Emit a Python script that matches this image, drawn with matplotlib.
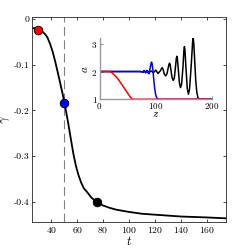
import matplotlib
matplotlib.use('Agg')
import matplotlib.pyplot as plt

plt.rcParams.update({
    'font.family': 'cmr10',
    'mathtext.fontset': 'cm',
    'axes.unicode_minus': False,
    'axes.formatter.use_mathtext': True,
})

# main curve gamma(t)
t_vals = [25, 28, 30, 33, 35, 37, 39, 41, 43, 45, 47, 49, 50, 51, 53, 55, 57,
          59, 61, 63, 65, 68, 71, 75, 80, 85, 90, 100, 110, 120, 130, 140,
          150, 160, 175]
gamma_vals = [-0.020, -0.021, -0.024, -0.028, -0.033, -0.041, -0.055, -0.072,
              -0.094, -0.118, -0.143, -0.168, -0.183, -0.197, -0.228, -0.262,
              -0.295, -0.322, -0.342, -0.358, -0.370, -0.380, -0.391, -0.400,
              -0.408, -0.413, -0.417, -0.422, -0.426, -0.428, -0.430, -0.432,
              -0.433, -0.434, -0.436]

# snapshot markers
t_marks = [30, 50, 75]
gamma_marks = [-0.024, -0.183, -0.400]
mark_colors = ['red', 'blue', 'black']
t_dash = 50

# inset profiles a(z)
z_black = [0, 72, 76, 79, 82, 85, 88, 92, 96, 100, 104, 108, 110, 111.5, 113,
           115, 117.5, 120, 122, 123.5, 124.5, 125.5, 127, 129, 131, 133,
           135, 136.5, 137.5, 138.5, 140, 142, 144, 146, 148.5, 150, 151,
           152, 153.5, 156, 158, 160, 163, 165.5, 166.5, 167.5, 169, 171,
           173, 175, 177, 200]
a_black = [2, 2, 1.98, 2.03, 1.97, 2.03, 1.97, 2.02, 1.96, 2.05, 1.93, 2.02,
           2.10, 2.14, 2.08, 1.92, 1.84, 1.92, 2.12, 2.26, 2.30, 2.26, 2.05,
           1.78, 1.68, 1.76, 2.15, 2.46, 2.55, 2.46, 2.1, 1.6, 1.42, 1.55,
           2.2, 2.75, 2.90, 2.75, 2.2, 1.4, 1.18, 1.35, 2.2, 3.05, 3.23, 3.05,
           2.5, 1.7, 1.25, 1.06, 1.0, 1.0]

z_blue = [0, 75, 78, 80, 82, 84, 86, 88, 90, 91.5, 92.5, 93.5, 95, 96.5,
          98, 100, 102, 105, 200]
a_blue = [2, 2, 1.97, 2.03, 1.95, 2.04, 1.96, 1.92, 2.12, 2.28, 2.34, 2.28,
          2.05, 1.7, 1.4, 1.15, 1.04, 1.0, 1.0]

z_red = [0, 18, 22, 26, 30, 34, 38, 42, 46, 50, 54, 57, 60, 200]
a_red = [2, 2, 1.96, 1.88, 1.8, 1.7, 1.58, 1.46, 1.34, 1.22, 1.1, 1.03, 1.0,
         1.0]

fig = plt.figure(figsize=(2.5, 2.5), dpi=100)
ax = fig.add_axes([0.128, 0.112, 0.776, 0.82])

ax.axvline(t_dash, color='0.5', lw=0.8, dashes=(8, 4))
ax.plot(t_vals, gamma_vals, color='black', lw=1.3)
for tm, gm, c in zip(t_marks, gamma_marks, mark_colors):
    ax.plot(tm, gm, 'o', ms=6.2, mfc=c, mec='black', mew=0.6, zorder=5)

ax.set_xlim(25, 175)
ax.set_ylim(-0.444, 0.004)
ax.set_xticks([40, 60, 80, 100, 120, 140, 160])
ax.set_yticks([0, -0.1, -0.2, -0.3, -0.4])
ax.set_yticklabels(['0', '-0.1', '-0.2', '-0.3', '-0.4'])
ax.tick_params(direction='in', length=2.5, width=0.5, labelsize=7,
               top=True, right=True, pad=2)
for s in ax.spines.values():
    s.set_linewidth(0.6)
    s.set_color('0.15')
ax.set_xlabel('$t$', fontsize=9, labelpad=0)
ax.set_ylabel(r'$\gamma$', fontsize=9, labelpad=1)

ins = fig.add_axes([0.398, 0.603, 0.45, 0.244])
ins.plot(z_black, a_black, color='black', lw=1.1)
ins.plot(z_blue, a_blue, color='blue', lw=1.1)
ins.plot(z_red, a_red, color='red', lw=1.1)
ins.set_xlim(0, 200)
ins.set_ylim(1, 3.2)
ins.set_xticks([0, 100, 200])
ins.set_yticks([1, 2, 3])
ins.patch.set_alpha(0)
ins.spines['top'].set_visible(False)
ins.spines['right'].set_visible(False)
for s in ('left', 'bottom'):
    ins.spines[s].set_color('0.6')
    ins.spines[s].set_linewidth(1.0)
ins.tick_params(direction='in', length=2, width=0.5, labelsize=6.5,
                pad=1.5, color='0.4')
ins.set_xlabel('$z$', fontsize=8, labelpad=-1)
ins.set_ylabel('$a$', fontsize=8, labelpad=1)

fig.savefig('out.png', dpi=100)
